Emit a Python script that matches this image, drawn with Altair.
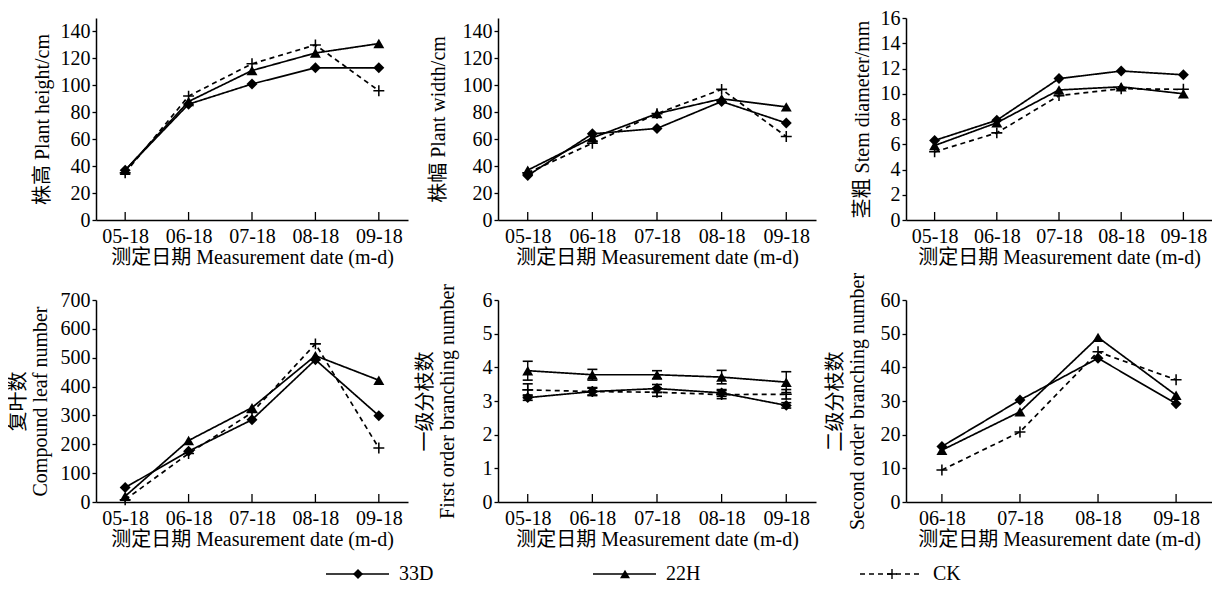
import altair as alt
import pandas as pd

FONT = "Liberation Serif, Noto Sans CJK SC"

series = ["33D", "22H", "CK"]
dates5 = ["05-18", "06-18", "07-18", "08-18", "09-18"]
dates4 = ["06-18", "07-18", "08-18", "09-18"]

# Plant height (cm)
height_33D = [37, 86, 101, 113, 113]
height_22H = [37, 88, 111, 124, 131]
height_CK = [35, 92, 116, 130, 96]

# Plant width (cm)
width_33D = [33, 64, 68, 88, 72]
width_22H = [37, 61, 79, 90, 84]
width_CK = [35, 57, 79, 97, 62]

# Stem diameter (mm)
stem_33D = [6.3, 7.9, 11.2, 11.8, 11.5]
stem_22H = [5.9, 7.7, 10.3, 10.55, 10.0]
stem_CK = [5.4, 6.9, 9.85, 10.4, 10.35]

# Compound leaf number
leaf_33D = [50, 176, 285, 493, 299]
leaf_22H = [20, 213, 327, 507, 422]
leaf_CK = [8, 168, 310, 548, 187]

# First order branching number (+ error)
first_33D = [3.1, 3.28, 3.37, 3.24, 2.87]
first_22H = [3.9, 3.78, 3.78, 3.71, 3.56]
first_CK = [3.33, 3.28, 3.26, 3.19, 3.2]
first_err_33D = [0.08, 0.1, 0.12, 0.1, 0.08]
first_err_22H = [0.28, 0.16, 0.12, 0.2, 0.31]
first_err_CK = [0.18, 0.12, 0.12, 0.12, 0.14]

# Second order branching number
second_33D = [16.5, 30.3, 42.7, 29.2]
second_22H = [15.4, 26.8, 48.9, 31.7]
second_CK = [9.5, 20.8, 44.6, 36.3]

XTITLE = "测定日期 Measurement date (m-d)"

CROSS = "M-1,-0.14H1V0.14H-1Z M-0.14,-1H0.14V1H-0.14Z"
shape_scale = alt.Scale(domain=series, range=["diamond", "triangle-up", CROSS])
dash_scale = alt.Scale(domain=series, range=[[1, 0], [1, 0], [5, 4]])


def long_df(dates, vals, errs=None):
    rows = []
    for i, (s, v) in enumerate(zip(series, vals)):
        for j, (d, y) in enumerate(zip(dates, v)):
            r = {"date": d, "series": s, "value": y}
            if errs is not None:
                r["lo"] = y - errs[i][j]
                r["hi"] = y + errs[i][j]
            rows.append(r)
    return pd.DataFrame(rows)


def panel(dates, vals, W, H, ymax, yvals, ytitle, titleX, errs=None, legend=False):
    df = long_df(dates, vals, errs)
    xsc = alt.Scale(type="point", domain=dates, padding=0.46)
    ysc = alt.Scale(domain=[0, ymax], nice=False, zero=True)
    xax = alt.Axis(title=XTITLE, ticks=False, tickSize=0, labelPadding=6,
                   titleY=27, titleBaseline="top", labelAngle=0, labelOverlap=False)
    yax = alt.Axis(title=ytitle, values=yvals, tickSize=4, labelPadding=2,
                   titleX=titleX, titleAngle=270, titleBaseline="bottom",
                   titleAlign="center", titleLineHeight=22, labelOverlap=False)
    x = alt.X("date:N", scale=xsc, axis=xax)
    y = alt.Y("value:Q", scale=ysc, axis=yax)
    base = alt.Chart(df)
    ticks = alt.Chart(pd.DataFrame({"date": dates})).mark_rule(
        color="black", strokeWidth=1.3
    ).encode(x=x, y=alt.value(H), y2=alt.value(H - 8))
    lines = base.mark_line(color="black", strokeWidth=1.7).encode(
        x=x, y=y,
        strokeDash=alt.StrokeDash("series:N", scale=dash_scale, legend=None),
    )
    pts = base.mark_point(filled=True, color="black", opacity=1, size=120).encode(
        x=x, y=y, shape=alt.Shape("series:N", scale=shape_scale, legend=None)
    )
    layers = [ticks, lines]
    if errs is not None:
        ylo = alt.Y("lo:Q", scale=ysc, axis=yax)
        yhi = alt.Y("hi:Q", scale=ysc, axis=yax)
        bar = base.mark_rule(color="black", strokeWidth=1.4).encode(
            x=x, y=ylo, y2=alt.Y2("hi:Q"))
        cap_hi = base.mark_point(shape="stroke", filled=False, color="black",
                                 strokeWidth=1.6, size=100, opacity=1).encode(x=x, y=yhi)
        cap_lo = base.mark_point(shape="stroke", filled=False, color="black",
                                 strokeWidth=1.6, size=100, opacity=1).encode(x=x, y=ylo)
        layers += [bar, cap_hi, cap_lo]
    layers.append(pts)
    ch = alt.layer(*layers).properties(width=W, height=H)
    if legend:
        leg_df = pd.DataFrame({"series": series})
        lx = alt.X("series:N", scale=alt.Scale(type="point", domain=series,
                                               range=[262, 796], padding=0), axis=None)
        ly = alt.value(H + 72)
        leg_line = alt.Chart(leg_df).mark_rule(
            color="black", strokeWidth=1.7, xOffset=-32, x2Offset=31
        ).encode(x=lx, x2=alt.X2("series"), y=ly,
                 strokeDash=alt.StrokeDash("series:N", scale=dash_scale, legend=None))
        leg_pt = alt.Chart(leg_df).mark_point(filled=True, color="black", opacity=1, size=100).encode(
            x=lx, y=ly, shape=alt.Shape("series:N", scale=shape_scale, legend=None))
        leg_txt = alt.Chart(leg_df).mark_text(
            align="left", baseline="middle", dx=41, fontSize=20, font=FONT, color="black"
        ).encode(x=lx, y=ly, text="series:N")
        ch = alt.layer(ch, leg_line, leg_pt, leg_txt).resolve_scale(x="independent")
        ch = ch.properties(width=W, height=H)
    return ch


p1 = panel(dates5, [height_33D, height_22H, height_CK], 312, 202, 150,
           list(range(0, 141, 20)), "株高 Plant height/cm", -44)
p2 = panel(dates5, [width_33D, width_22H, width_CK], 318, 202, 150,
           list(range(0, 141, 20)), "株幅 Plant width/cm", -50)
p3 = panel(dates5, [stem_33D, stem_22H, stem_CK], 306, 202, 16,
           list(range(0, 17, 2)), "茎粗 Stem diameter/mm", -34)
p4 = panel(dates5, [leaf_33D, leaf_22H, leaf_CK], 312, 202, 700,
           list(range(0, 701, 100)), ["复叶数", "Compound leaf number"], -68, legend=True)
p5 = panel(dates5, [first_33D, first_22H, first_CK], 318, 202, 6,
           list(range(0, 7, 1)), ["一级分枝数", "First order branching number"], -63,
           errs=[first_err_33D, first_err_22H, first_err_CK])
p6 = panel(dates4, [second_33D, second_22H, second_CK], 306, 202, 60,
           list(range(0, 61, 10)), ["二级分枝数", "Second order branching number"], -61)

chart = alt.concat(
    p1, p2, p3, p4, p5, p6, columns=3,
    spacing={"row": 80, "column": 90}, bounds="flush", align="each"
).properties(
    padding={"left": 0, "top": 0, "right": 0, "bottom": 0}
).configure_view(
    stroke=None
).configure_axis(
    grid=False, domainColor="black", domainWidth=1.5, tickColor="black", tickWidth=1.3,
    labelColor="black", titleColor="black", labelFont=FONT, titleFont=FONT,
    labelFontSize=20, titleFontSize=20, titleFontWeight="normal"
)

chart.save("out.html", embed_options={"renderer": "svg", "actions": False})
